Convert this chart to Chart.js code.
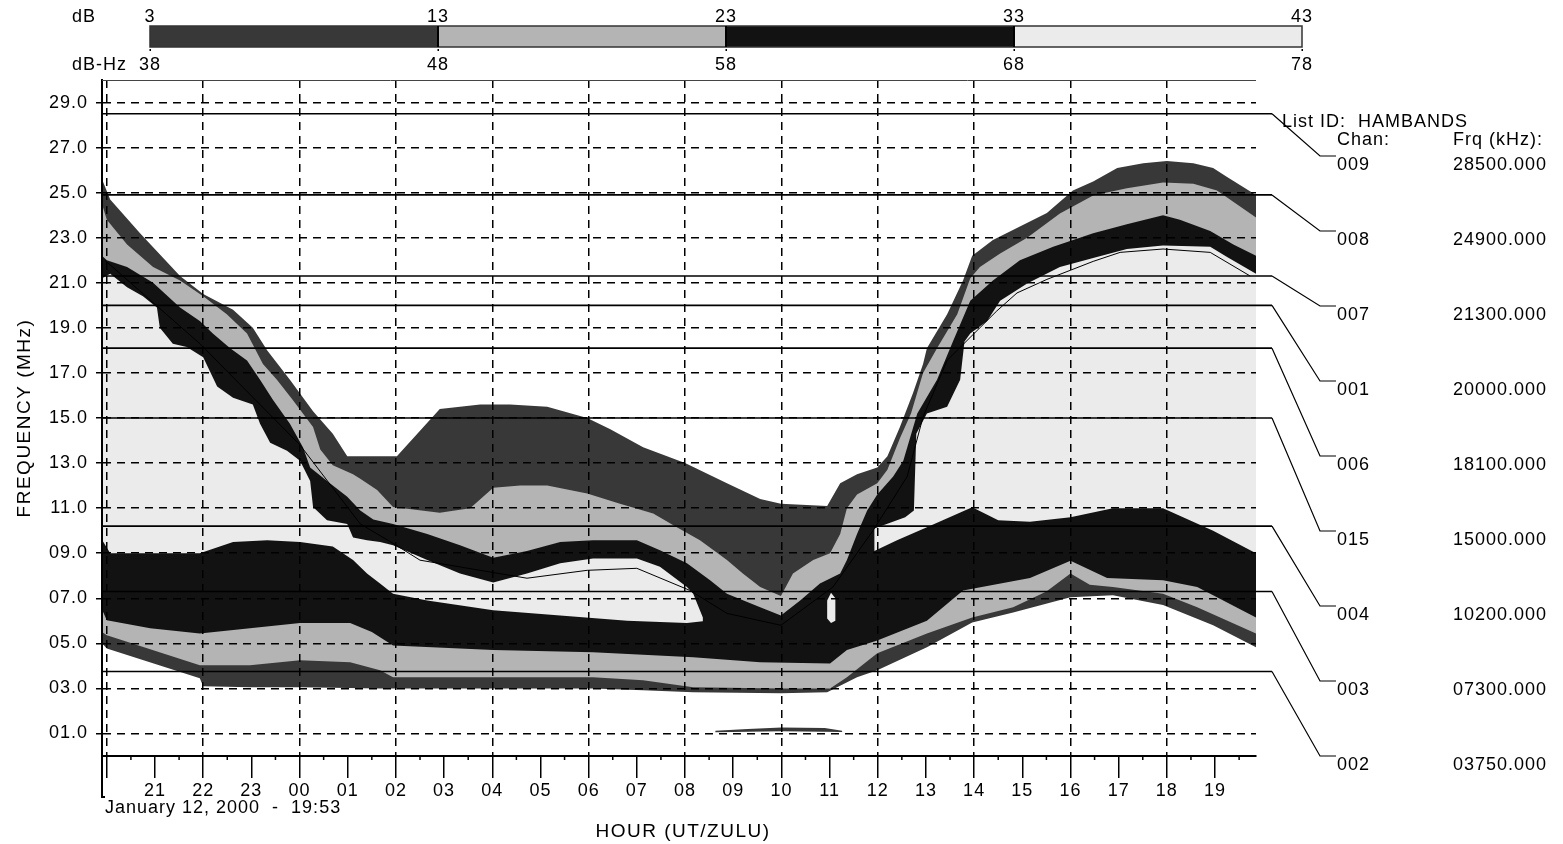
<!DOCTYPE html>
<html><head><meta charset="utf-8">
<script src="https://cdn.jsdelivr.net/npm/chart.js@4.4.1/dist/chart.umd.min.js"></script>
<style>html,body{margin:0;padding:0;background:#fff;}canvas{display:block;}</style>
</head><body>
<canvas id="c" width="1563" height="844"></canvas>
<script>
const FONT = "'Liberation Sans', Arial, Helvetica, sans-serif";

// ---- legend levels ----
const dbLevels = [3, 13, 23, 33, 43];
const dbHzLevels = [38, 48, 58, 68, 78];
const levelColors = ['#383838', '#b4b4b4', '#121212', '#ebebeb'];

// ---- axes ----
// x = hours after 20:00 UT (start 19:53)
const hourTicks = [0,1,2,3,4,5,6,7,8,9,10,11,12,13,14,15,16,17,18,19,20,21,22,23];
const hourLabels = ['', '21','22','23','00','01','02','03','04','05','06','07','08','09','10','11','12','13','14','15','16','17','18','19'];
const freqTicks = [1,3,5,7,9,11,13,15,17,19,21,23,25,27,29];

// ---- channels ----
const chanIds = ['009','008','007','001','006','015','004','003','002'];
const chanFreqs = [28500, 24900, 21300, 20000, 18100, 15000, 10200, 7300, 3750];

// ---- contour boundaries [hour, MHz] ----
const snr03Top = [[-0.1,25.6],[0.07,24.7],[0.69,23.2],[1.52,21.3],[2.0,20.5],[2.62,19.8],[3.03,19.0],[3.33,18.0],[3.8,16.7],[4.28,15.3],[4.69,14.3],[4.99,13.3],[6.02,13.3],[6.91,15.4],[7.75,15.6],[8.37,15.6],[9.14,15.5],[9.97,15.0],[10.45,14.5],[11.13,13.7],[12.0,13.0],[12.87,12.1],[13.56,11.4],[13.99,11.2],[14.95,11.1],[15.22,12.1],[15.57,12.5],[15.99,12.8],[16.2,13.3],[16.46,14.6],[16.73,16.1],[16.94,17.4],[17.02,18.1],[17.44,19.6],[17.77,21.1],[17.96,22.2],[18.39,22.9],[18.95,23.5],[19.51,24.1],[20.05,25.1],[20.47,25.5],[20.97,26.1],[21.51,26.3],[22.0,26.4],[22.55,26.3],[22.96,26.1],[23.25,25.7],[23.85,24.9]];
const snr03Bottom = [[-0.1,5.0],[0.0,4.77],[1.93,3.45],[2.0,3.1],[2.97,3.05],[4.01,3.05],[5.67,3.0],[8.02,3.0],[10.09,3.0],[11.13,2.92],[12.17,2.83],[13.99,2.78],[14.95,2.83],[15.57,3.5],[15.99,3.8],[17.02,4.83],[17.96,5.93],[18.81,6.37],[20.0,7.05],[20.88,7.13],[21.92,6.7],[22.96,5.8],[23.85,4.83]];

const snr13Top = [[-0.1,24.5],[0.0,23.8],[0.42,22.7],[0.96,21.7],[1.52,21.1],[2.0,20.4],[2.49,19.6],[2.91,18.75],[3.24,17.4],[3.53,16.7],[3.86,15.8],[4.28,14.6],[4.43,13.6],[4.69,12.9],[5.11,12.5],[5.26,12.3],[5.61,11.8],[5.94,11.05],[6.91,10.8],[7.54,11.0],[8.02,11.9],[8.58,12.0],[9.14,12.0],[9.97,11.65],[10.65,11.2],[11.34,10.76],[11.83,10.15],[12.31,9.57],[12.87,8.7],[13.2,8.1],[13.56,7.5],[13.99,7.1],[14.24,8.1],[14.66,8.7],[15.01,9.0],[15.22,9.85],[15.36,11.0],[15.57,11.6],[15.99,12.1],[16.2,12.7],[16.46,14.1],[16.69,15.2],[16.94,17.0],[17.23,18.1],[17.65,19.6],[17.92,21.2],[18.12,21.7],[18.54,22.3],[19.1,23.0],[19.78,24.07],[20.47,24.87],[21.17,25.2],[21.92,25.45],[22.55,25.4],[23.04,25.1],[23.85,23.9]];
const snr13Bottom = [[-0.1,5.5],[0.0,5.36],[1.93,4.03],[2.97,4.03],[4.01,4.25],[5.05,4.16],[5.67,3.8],[5.94,3.5],[8.02,3.5],[10.09,3.5],[11.13,3.36],[12.17,3.05],[13.99,3.0],[15.01,3.0],[15.36,3.5],[15.99,4.56],[17.02,5.44],[17.96,6.15],[18.81,6.6],[19.5,7.3],[20.0,8.1],[20.4,7.6],[20.88,7.5],[21.92,7.2],[22.63,6.6],[23.85,5.44]];

const snr23Top = [[-0.1,22.2],[0.0,22.0],[0.42,21.7],[0.96,21.0],[1.52,19.9],[1.93,19.3],[2.2,18.75],[2.56,18.1],[2.91,17.55],[3.18,16.7],[3.45,15.8],[3.8,14.75],[4.07,13.7],[4.22,12.8],[4.57,12.2],[4.99,11.5],[5.26,10.9],[5.53,10.5],[5.94,10.3],[6.65,9.85],[7.33,9.35],[8.02,8.8],[8.72,9.1],[9.41,9.5],[10.09,9.57],[11.0,9.57],[11.48,9.13],[12.04,8.55],[12.52,7.8],[12.87,7.2],[13.56,6.6],[13.99,6.24],[14.39,6.9],[14.8,7.66],[15.22,8.1],[15.36,8.7],[15.57,9.85],[15.78,10.9],[15.99,11.6],[16.32,12.4],[16.53,13.1],[16.82,15.2],[17.23,16.7],[17.56,18.4],[17.92,20.2],[18.39,21.1],[18.95,22.0],[19.64,22.6],[20.47,23.2],[21.17,23.6],[21.92,24.0],[22.27,23.8],[22.9,23.3],[23.38,22.7],[23.85,22.2]];
const snr23Bottom = [[-0.1,6.5],[0.0,6.02],[0.9,5.67],[1.93,5.44],[2.97,5.67],[4.01,5.9],[5.05,5.9],[5.5,5.5],[5.94,4.9],[8.02,4.7],[10.09,4.6],[12.17,4.38],[13.56,4.16],[15.01,4.1],[15.36,4.7],[15.99,5.13],[17.02,6.0],[17.77,7.35],[19.16,7.9],[20.0,8.67],[20.76,7.9],[21.92,7.8],[22.63,7.5],[23.85,6.15]];

const snr33aTop = [[-0.1,21.2],[0.07,21.4],[0.42,20.8],[0.75,20.4],[1.04,19.9],[1.1,19.0],[1.37,18.3],[1.66,18.15],[2.0,17.7],[2.29,16.4],[2.62,15.9],[3.03,15.6],[3.18,14.75],[3.39,13.9],[3.74,13.55],[4.01,13.1],[4.22,12.2],[4.28,11.05],[4.57,10.46],[4.99,10.3],[5.11,9.7],[5.4,9.57],[5.67,9.5],[5.94,9.35],[6.65,8.7],[7.33,8.1],[8.02,7.7],[8.72,8.1],[9.41,8.55],[10.09,8.77],[11.0,8.77],[11.48,8.4],[12.04,7.5],[12.17,7.2],[12.37,6.15]];
const snr33aBottom = [[-0.1,9.6],[0.07,9.0],[1.93,9.0],[2.62,9.5],[3.33,9.57],[4.01,9.5],[4.69,9.3],[5.11,8.7],[5.4,8.1],[5.67,7.66],[5.94,7.2],[6.65,6.9],[8.02,6.47],[9.41,6.24],[10.8,6.0],[12.04,5.9],[12.37,5.98]];

const snr33bTop = [[15.93,10.1],[16.0,10.15],[16.57,10.6],[16.75,10.9],[16.8,14.3],[17.02,15.2],[17.44,15.5],[17.71,16.7],[17.8,18.4],[17.92,18.75],[18.27,19.3],[18.54,20.2],[19.1,20.97],[19.78,21.7],[20.47,22.1],[21.17,22.5],[21.92,22.65],[22.9,22.6],[23.25,22.15],[23.85,21.4]];
const snr33bBottom = [[15.93,9.1],[16.4,9.57],[17.02,10.15],[17.96,11.04],[18.5,10.46],[19.16,10.4],[20.0,10.6],[20.88,11.0],[21.92,11.0],[22.96,10.0],[23.85,9.0]];

const snr33cTop = [[14.95,6.9],[15.03,7.25],[15.12,7.0]];
const snr33cBottom = [[14.95,6.1],[15.03,5.9],[15.12,6.0]];

const sliverTop = [[12.63,1.12],[13.3,1.2],[14.0,1.27],[14.9,1.24],[15.26,1.12]];
const sliverBottom = [[12.63,1.05],[14.0,1.1],[15.26,1.07]];

const mufLine = [[-0.04,22.0],[1.93,18.3],[4.01,13.8],[5.26,10.3],[5.94,9.44],[6.5,8.69],[8.72,7.89],[9.97,8.24],[11.0,8.33],[12.1,7.35],[12.87,6.33],[13.99,5.8],[15.07,7.5],[15.9,10.0],[16.61,12.4],[16.94,15.05],[17.44,17.56],[18.47,19.75],[18.89,20.55],[19.51,21.15],[20.47,21.95],[21.03,22.35],[21.92,22.5],[22.9,22.35],[23.73,21.3]];

// ---- build ----
const toPts = a => a.map(([x, y]) => ({x, y}));
const polygon = (top, bottom) => toPts(top).concat(toPts(bottom.slice().reverse()));
const area = (data, color, order) => ({data, backgroundColor: color, borderColor: 'rgba(0,0,0,0)', borderWidth: 0,
  pointRadius: 0, pointHoverRadius: 0, pointHitRadius: 0, fill: 'shape', tension: 0, order});

const datasets = [
  area(polygon(snr03Top, snr03Bottom), levelColors[0], 10),
  area(polygon(sliverTop, sliverBottom), levelColors[0], 9),
  area(polygon(snr13Top, snr13Bottom), levelColors[1], 8),
  area(polygon(snr23Top, snr23Bottom), levelColors[2], 7),
  area(polygon(snr33aTop, snr33aBottom), levelColors[3], 6),
  area(polygon(snr33bTop, snr33bBottom), levelColors[3], 5),
  area(polygon(snr33cTop, snr33cBottom), levelColors[3], 4),
  {data: toPts(mufLine), borderColor: '#000', borderWidth: 1, pointRadius: 0, pointHoverRadius: 0, fill: false, tension: 0, order: 1}
];

const spacing = {
  id: 'spacing',
  beforeDraw(chart) { chart.ctx.letterSpacing = '1px'; }
};

const overlay = {
  id: 'overlay',
  afterDraw(chart) {
    const {ctx, chartArea: ca, scales: {x, y}} = chart;
    ctx.save();
    ctx.letterSpacing = '1px';
    // top border
    ctx.strokeStyle = '#444'; ctx.lineWidth = 1;
    ctx.beginPath(); ctx.moveTo(ca.left, ca.top + 0.5); ctx.lineTo(ca.right, ca.top + 0.5); ctx.stroke();

    // left axis extension with hook
    ctx.strokeStyle = '#000'; ctx.lineWidth = 2;
    ctx.beginPath(); ctx.moveTo(ca.left, ca.bottom); ctx.lineTo(ca.left, 797); ctx.lineTo(ca.left + 3, 797); ctx.stroke();

    // half-hour minor ticks
    ctx.lineWidth = 1.5;
    hourTicks.forEach(h => {
      const px = x.getPixelForValue(h + 0.5);
      if (px < ca.right) { ctx.beginPath(); ctx.moveTo(px, ca.bottom); ctx.lineTo(px, ca.bottom + 4); ctx.stroke(); }
    });

    // channel lines + leaders + labels
    ctx.font = '18px ' + FONT;
    ctx.fillStyle = '#000';
    ctx.textBaseline = 'middle';
    ctx.textAlign = 'left';
    chanFreqs.forEach((f, i) => {
      const py = y.getPixelForValue(f / 1000);
      const ly = 165 + 75 * i;
      ctx.strokeStyle = '#000';
      ctx.lineWidth = 1.6;
      ctx.beginPath(); ctx.moveTo(ca.left, py); ctx.lineTo(1272, py); ctx.stroke();
      ctx.lineWidth = 1.2;
      ctx.beginPath(); ctx.moveTo(1272, py); ctx.lineTo(1320, ly - 9); ctx.lineTo(1336, ly - 9); ctx.stroke();
      ctx.fillText(chanIds[i], 1337, ly);
      ctx.fillText(String(f).padStart(5, '0') + '.000', 1453, ly);
    });
    ctx.fillText('List ID:  HAMBANDS', 1282, 122);
    ctx.fillText('Chan:', 1337, 140);
    ctx.fillText('Frq (kHz):', 1453, 140);

    // legend bar
    const bx0 = 150, bx1 = 1302, by0 = 26, by1 = 47;
    const seg = (bx1 - bx0) / levelColors.length;
    levelColors.forEach((c, i) => { ctx.fillStyle = c; ctx.fillRect(bx0 + seg * i, by0, seg, by1 - by0); });
    ctx.strokeStyle = '#333'; ctx.lineWidth = 1.5;
    ctx.strokeRect(bx0, by0, bx1 - bx0, by1 - by0);
    ctx.strokeStyle = '#000'; ctx.lineWidth = 2;
    for (let i = 1; i < levelColors.length; i++) {
      ctx.beginPath(); ctx.moveTo(bx0 + seg * i, by0); ctx.lineTo(bx0 + seg * i, by1); ctx.stroke();
    }
    ctx.fillStyle = '#000';
    dbLevels.forEach((v, i) => {
      const px = bx0 + seg * i;
      ctx.fillRect(px - 0.5, 49, 1.5, 2);
      ctx.textAlign = 'center';
      ctx.fillText(String(v), px, 17);
      ctx.fillText(String(dbHzLevels[i]), px, 65);
    });
    ctx.textAlign = 'left';
    ctx.fillText('dB', 72, 17);
    ctx.fillText('dB-Hz', 72, 65);

    // date stamp
    ctx.fillText('January 12, 2000  -  19:53', 105, 808);

    // axis titles
    ctx.font = '19px ' + FONT;
    ctx.letterSpacing = '1.5px';
    ctx.textAlign = 'center';
    ctx.fillText('HOUR (UT/ZULU)', (ca.left + ca.right) / 2 + 4, 832);
    ctx.save();
    ctx.translate(25, (ca.top + ca.bottom) / 2);
    ctx.rotate(-Math.PI / 2);
    ctx.fillText('FREQUENCY (MHz)', 0, 0);
    ctx.restore();
    ctx.restore();
  }
};

new Chart(document.getElementById('c'), {
  type: 'line',
  data: {datasets},
  plugins: [spacing, overlay],
  options: {
    responsive: false, animation: false, devicePixelRatio: 1, events: [],
    layout: {padding: {left: 0, right: 307, top: 80, bottom: 0}},
    plugins: {legend: {display: false}, tooltip: {enabled: false}, title: {display: false}},
    scales: {
      x: {
        type: 'linear', min: -0.1, max: 23.85, position: 'bottom',
        afterBuildTicks: s => { s.ticks = hourTicks.map(v => ({value: v})); },
        afterFit: s => { s.height = 88; },
        ticks: {autoSkip: false, maxRotation: 0, minRotation: 0, padding: 2, color: '#000',
          font: {family: FONT, size: 18}, callback: (v, i) => hourLabels[i], z: 1},
        grid: {z: 1, color: c => (c.tick && c.tick.value % 2 === 0) ? '#000' : 'rgba(0,0,0,0)',
          lineWidth: 1.5, drawTicks: true, tickLength: 22, tickColor: '#000', tickWidth: 1.5},
        border: {display: true, color: '#000', width: 2, dash: [8, 6], z: 1}
      },
      y: {
        type: 'linear', min: 0, max: 30,
        afterBuildTicks: s => { s.ticks = freqTicks.map(v => ({value: v})); },
        afterFit: s => { s.width = 102; },
        ticks: {autoSkip: false, padding: 8, color: '#000', font: {family: FONT, size: 18},
          callback: v => (v < 10 ? '0' : '') + Number(v).toFixed(1), z: 1},
        grid: {z: 1, color: '#000', lineWidth: 1.5, tickLength: 6, tickColor: '#000', tickWidth: 1.5},
        border: {display: true, color: '#000', width: 2, dash: [8, 6], z: 1}
      }
    }
  }
});
</script>
</body></html>
